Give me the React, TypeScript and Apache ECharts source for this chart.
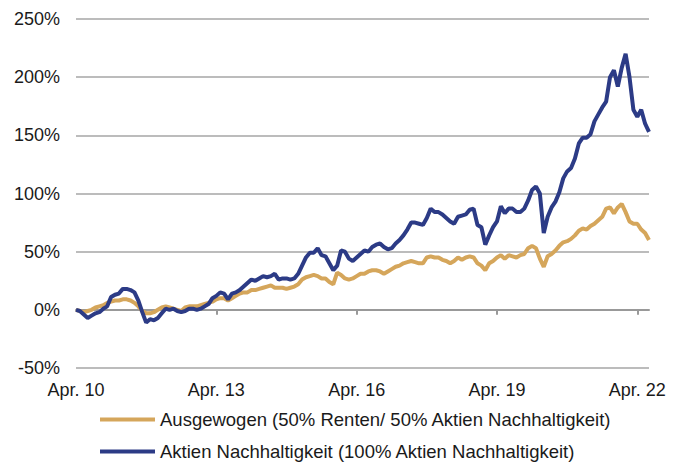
import React, { useEffect, useRef } from "react";
import * as echarts from "echarts";

// Monthly values since Apr. 2010 (month index 0 = Apr. 2010), in %
const seriesNames = [
  "Ausgewogen (50% Renten/ 50% Aktien Nachhaltigkeit)",
  "Aktien Nachhaltigkeit (100% Aktien Nachhaltigkeit)",
];

const ausgewogen = [
  0, -1, -2, -1, 0, 2, 3, 4, 6, 7,
  8, 8, 9, 9, 8, 6, 3, -1, -3, -3,
  -2, 0, 2, 3, 2, 1, 0, -1, 2, 3,
  3, 3, 4, 5, 6, 7, 9, 10, 10, 8,
  10, 12, 14, 15, 15, 17, 17, 18, 19, 20,
  21, 19, 19, 19, 18, 19, 20, 22, 26, 28,
  29, 30, 29, 27, 27, 24, 22, 32, 30, 27,
  26, 27, 29, 31, 31, 33, 34, 34, 33, 31,
  33, 35, 37, 38, 40, 41, 42, 41, 40, 40,
  45, 46, 45, 45, 43, 42, 40, 42, 45, 43,
  45, 46, 45, 40, 38, 34, 40, 42, 45, 47,
  44, 47, 46, 45, 47, 48, 53, 55, 53, 44,
  37, 46, 48, 51, 55, 58, 59, 61, 64, 68,
  70, 69, 72, 74, 77, 80, 87, 88, 83, 88,
  91, 84, 76, 74, 74, 69, 66, 60,
];

const aktien = [
  0, -1, -4, -7, -5, -3, -2, 1, 3, 11,
  13, 14, 18, 18, 17, 15, 8, -2, -11, -8,
  -9, -7, -3, 1, 0, 1, -1, -2, -1, 1,
  1, 0, 1, 3, 5, 10, 12, 15, 14, 9,
  14, 15, 17, 20, 23, 26, 25, 27, 29, 28,
  29, 31, 26, 27, 27, 26, 27, 31, 38, 45,
  49, 49, 53, 47, 46, 40, 34, 38, 51, 50,
  44, 42, 45, 48, 51, 50, 54, 56, 57, 54,
  52, 53, 57, 60, 64, 69, 75, 75, 74, 73,
  79, 87, 84, 84, 82, 79, 76, 74, 80, 81,
  82, 86, 87, 73, 71, 56, 64, 71, 76, 89,
  83, 87, 87, 84, 84, 87, 94, 103, 106, 100,
  66, 80, 88, 93, 101, 113, 119, 122, 130, 143,
  148, 148, 151, 162, 168, 174, 179, 200, 206, 192,
  208, 220, 200, 172, 166, 172, 160, 153,
];

const xTickMonths = [0, 36, 72, 108, 144];
const xTickLabels = ["Apr. 10", "Apr. 13", "Apr. 16", "Apr. 19", "Apr. 22"];
const yTicks = [-50, 0, 50, 100, 150, 200, 250];

const GOLD = "#D5A65B";
const NAVY = "#2C3B86";
const FONT = "'Liberation Sans', Arial, sans-serif";

export default function App() {
  const ref = useRef<HTMLDivElement>(null);

  useEffect(() => {
    if (!ref.current) return;
    const chart = echarts.init(ref.current, undefined, { renderer: "svg" });
    const labelStyle = { color: "#1a1a1a", fontSize: 18, fontFamily: FONT };
    const legendBase = {
      orient: "horizontal",
      left: 100,
      padding: 0,
      itemWidth: 55,
      itemHeight: 4,
      icon: "rect",
      textStyle: { ...labelStyle, fontSize: 18.5 },
    };
    chart.setOption({
      animation: false,
      backgroundColor: "#ffffff",
      textStyle: { fontFamily: FONT },
      grid: { left: 76, right: 33, top: 19, bottom: 94, containLabel: false },
      legend: [
        { ...legendBase, top: 410, data: [seriesNames[0]] },
        { ...legendBase, top: 442, data: [seriesNames[1]] },
      ],
      xAxis: [
        {
          type: "value",
          position: "bottom",
          min: 0,
          max: 147,
          axisLine: { show: false, onZero: false },
          axisTick: { show: false },
          splitLine: { show: false },
          axisLabel: {
            ...labelStyle,
            margin: 13,
            customValues: xTickMonths,
            formatter: (v: number) => {
              const i = xTickMonths.indexOf(Math.round(v));
              return i >= 0 ? xTickLabels[i] : "";
            },
          },
        },
        {
          type: "value",
          position: "bottom",
          min: 0,
          max: 147,
          axisLine: { show: true, onZero: true, lineStyle: { color: "#999999", width: 2 } },
          axisTick: {
            show: true,
            length: 5,
            customValues: xTickMonths.slice(1),
            lineStyle: { color: "#999999", width: 2 },
          },
          axisLabel: { show: false },
          splitLine: { show: false },
        },
      ],
      yAxis: {
        type: "value",
        min: yTicks[0],
        max: yTicks[yTicks.length - 1],
        interval: 50,
        axisLine: { show: false },
        axisTick: { show: false },
        axisLabel: { ...labelStyle, margin: 16, formatter: "{value}%" },
        splitLine: { lineStyle: { color: "#a6a6a6", width: 1.5 } },
      },
      series: [
        {
          name: seriesNames[0],
          type: "line",
          xAxisIndex: 0,
          showSymbol: false,
          symbol: "none",
          color: GOLD,
          lineStyle: { color: GOLD, width: 4 },
          data: ausgewogen.map((v, i) => [i, v]),
        },
        {
          name: seriesNames[1],
          type: "line",
          xAxisIndex: 0,
          showSymbol: false,
          symbol: "none",
          color: NAVY,
          lineStyle: { color: NAVY, width: 4 },
          data: aktien.map((v, i) => [i, v]),
        },
      ],
    });
    return () => chart.dispose();
  }, []);

  return (
    <div
      ref={ref}
      style={{ position: "fixed", left: 0, top: 0, width: 682, height: 462, background: "#fff" }}
    />
  );
}
